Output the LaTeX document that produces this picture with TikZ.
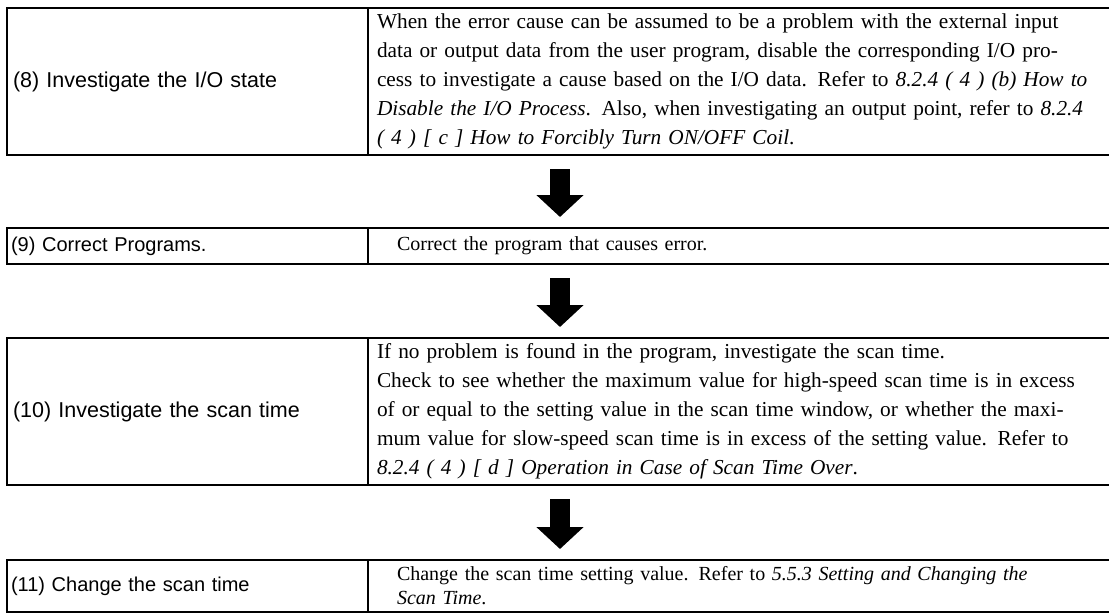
\documentclass[tikz,border=0pt]{standalone}
\usepackage{fontspec}
\setmainfont{Liberation Serif}
\newfontfamily\arialf{Liberation Sans}
\usetikzlibrary{arrows.meta}
\newlength\rw \setlength\rw{708pt}
\newcommand\jl[1]{\makebox[\rw][s]{#1}}
\tikzset{
  frame/.style={draw, line width=2pt, anchor=north west, inner ysep=0pt},
  lcell/.style={frame, minimum width=361pt, text width=349pt, inner xsep=6pt, align=left,
    font=\arialf\fontsize{21.5}{26}\selectfont},
  lcellb/.style={frame, minimum width=361pt, text width=353pt, inner xsep=4pt, align=left,
    font=\arialf\fontsize{20}{24}\selectfont},
  rcell/.style={frame, text width=708pt, inner xsep=9pt, inner ysep=0pt, align=left,
    font=\fontsize{21.3}{29}\selectfont},
  rcellb/.style={frame, text width=705pt, inner xsep=29pt, align=left,
    font=\fontsize{20}{24}\selectfont},
  bigarrow/.style={line width=20pt, -{Triangle[width=46pt,length=22pt]}}
}
\begin{document}
\begin{tikzpicture}[x=1pt,y=-1pt]
\useasboundingbox (0,0) rectangle (1109,616);
% box 8
\node[lcell, minimum height=147pt] (l8) at (6,7) {(8) Investigate the I/O state};
\node[rcell, minimum height=147pt, text width=726pt] (r8) at (367,7) {%
\jl{When the error cause can be assumed to be a problem with the external input}\\
\jl{data or output data from the user program, disable the corresponding I/O pro-}\\
\jl{cess to investigate a cause based on the I/O data. Refer to \textit{8.2.4 ( 4 ) (b) How to}}\\
\jl{\textit{Disable the I/O Process}. Also, when investigating an output point, refer to \textit{8.2.4}}\\
\textit{( 4 ) [ c ] How to Forcibly Turn ON/OFF Coil}.};
% box 9
\node[lcellb, minimum height=36pt] (l9) at (6,227) {(9) Correct Programs.};
\node[rcellb, minimum height=36pt] (r9) at (367,227) {Correct the program that causes error.};
% box 10
\node[lcell, minimum height=147pt] (l10) at (6,337) {(10) Investigate the scan time};
\node[rcell, minimum height=147pt, text width=726pt] (r10) at (367,337) {%
If no problem is found in the program, investigate the scan time.\\
\jl{Check to see whether the maximum value for high-speed scan time is in excess}\\
\jl{of or equal to the setting value in the scan time window, or whether the maxi-}\\
\jl{mum value for slow-speed scan time is in excess of the setting value. Refer to}\\
\textit{8.2.4 ( 4 ) [ d ] Operation in Case of Scan Time Over}.};
% box 11
\node[lcellb, minimum height=52pt] (l11) at (6,559) {(11) Change the scan time};
\node[rcellb, minimum height=52pt] (r11) at (367,559) {Change the scan time setting value. Refer to \textit{5.5.3 Setting and Changing the}\\
\textit{Scan Time}.};
% arrows
\coordinate (a1s) at (560,169); \coordinate (a1e) at (560,217);
\coordinate (a2s) at (560,278); \coordinate (a2e) at (560,327);
\coordinate (a3s) at (560,499); \coordinate (a3e) at (560,549);
\draw[bigarrow] (a1s) -- (a1e);
\draw[bigarrow] (a2s) -- (a2e);
\draw[bigarrow] (a3s) -- (a3e);
\end{tikzpicture}
\end{document}
